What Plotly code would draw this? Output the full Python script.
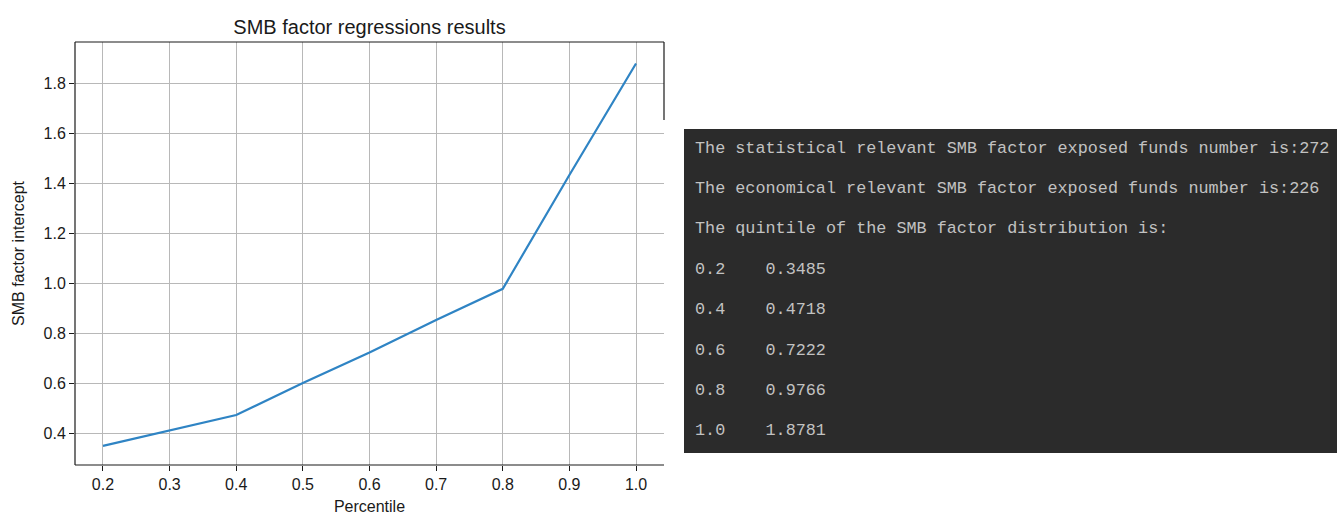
import plotly.graph_objects as go

# Percentile grid and the fitted SMB intercept at each step
percentiles = [0.2, 0.3, 0.4, 0.5, 0.6, 0.7, 0.8, 0.9, 1.0]
intercepts = [0.3485, 0.409, 0.4718, 0.600, 0.7222, 0.852, 0.9766, 1.432, 1.8781]

# Console summary printed next to the chart
statistical_count = 272
economical_count = 226
quintile_labels = ["0.2", "0.4", "0.6", "0.8", "1.0"]
quintile_values = ["0.3485", "0.4718", "0.7222", "0.9766", "1.8781"]

y_ticks = [0.4, 0.6, 0.8, 1.0, 1.2, 1.4, 1.6, 1.8]
x_ticks = [0.2, 0.3, 0.4, 0.5, 0.6, 0.7, 0.8, 0.9, 1.0]

W, H = 1343, 516


def px(x):
    return x / W


def py(y):
    return 1 - y / H


fig = go.Figure()
fig.add_trace(go.Scatter(
    x=percentiles, y=intercepts, mode="lines",
    line=dict(color="#2f84c4", width=2.2),
    showlegend=False, hoverinfo="x+y",
))

plot_l, plot_r, plot_t, plot_b = 75, 664, 42, 465
axis_font = dict(family="Liberation Sans, Arial, sans-serif", size=16, color="#1a1a1a")

fig.update_layout(
    width=W, height=H,
    margin=dict(l=0, r=0, t=0, b=0),
    paper_bgcolor="white", plot_bgcolor="white",
    font=axis_font,
    title=dict(
        text="SMB factor regressions results",
        x=px((plot_l + plot_r) / 2), xanchor="center",
        y=py(27), yanchor="middle",
        font=dict(family="Liberation Sans, Arial, sans-serif", size=20, color="#1a1a1a"),
    ),
    xaxis=dict(
        domain=[px(plot_l), px(plot_r)],
        range=[0.158, 1.042],
        tickvals=x_ticks, ticktext=[f"{v:.1f}" for v in x_ticks],
        showgrid=True, gridcolor="#b8b8b8", gridwidth=1,
        zeroline=False, showline=False,
        ticks="outside", ticklen=5, tickcolor="#1a1a1a",
        title=dict(text="Percentile", standoff=8, font=axis_font),
        tickfont=axis_font,
    ),
    yaxis=dict(
        domain=[py(plot_b), py(plot_t)],
        range=[0.272, 1.964],
        tickvals=y_ticks, ticktext=[f"{v:.1f}" for v in y_ticks],
        showgrid=True, gridcolor="#b8b8b8", gridwidth=1,
        zeroline=False, showline=False,
        ticks="outside", ticklen=5, tickcolor="#1a1a1a",
        title=dict(text="SMB factor intercept", standoff=14, font=axis_font),
        tickfont=axis_font,
    ),
)

# Axes frame: left, bottom, top and a partial right spine
frame = dict(color="#1a1a1a", width=1.2)
fig.add_shape(type="line", xref="paper", yref="paper",
              x0=px(plot_l), x1=px(plot_l), y0=py(plot_b), y1=py(plot_t), line=frame)
fig.add_shape(type="line", xref="paper", yref="paper",
              x0=px(plot_l), x1=px(plot_r), y0=py(plot_b), y1=py(plot_b), line=frame)
fig.add_shape(type="line", xref="paper", yref="paper",
              x0=px(plot_l), x1=px(plot_r), y0=py(plot_t), y1=py(plot_t), line=frame)
fig.add_shape(type="line", xref="paper", yref="paper",
              x0=px(plot_r), x1=px(plot_r), y0=py(120), y1=py(plot_t), line=frame)

# Dark console panel
fig.add_shape(type="rect", xref="paper", yref="paper",
              x0=px(684), x1=px(1337), y0=py(453), y1=py(129),
              fillcolor="#2b2b2b", line=dict(width=0), layer="below")

console_lines = [
    f"The statistical relevant SMB factor exposed funds number is:{statistical_count}",
    f"The economical relevant SMB factor exposed funds number is:{economical_count}",
    "The quintile of the SMB factor distribution is:",
]
console_lines += [f"{q}    {v}" for q, v in zip(quintile_labels, quintile_values)]

line_y0, line_step = 148, 40.4
for i, txt in enumerate(console_lines):
    fig.add_annotation(
        xref="paper", yref="paper",
        x=px(693), y=py(line_y0 + i * line_step),
        xanchor="left", yanchor="middle",
        text=txt.replace(" ", "&nbsp;"), showarrow=False,
        font=dict(family="Liberation Mono, DejaVu Sans Mono, monospace", size=16.8, color="#c2c2c2"),
    )

fig.write_html("out.html")
